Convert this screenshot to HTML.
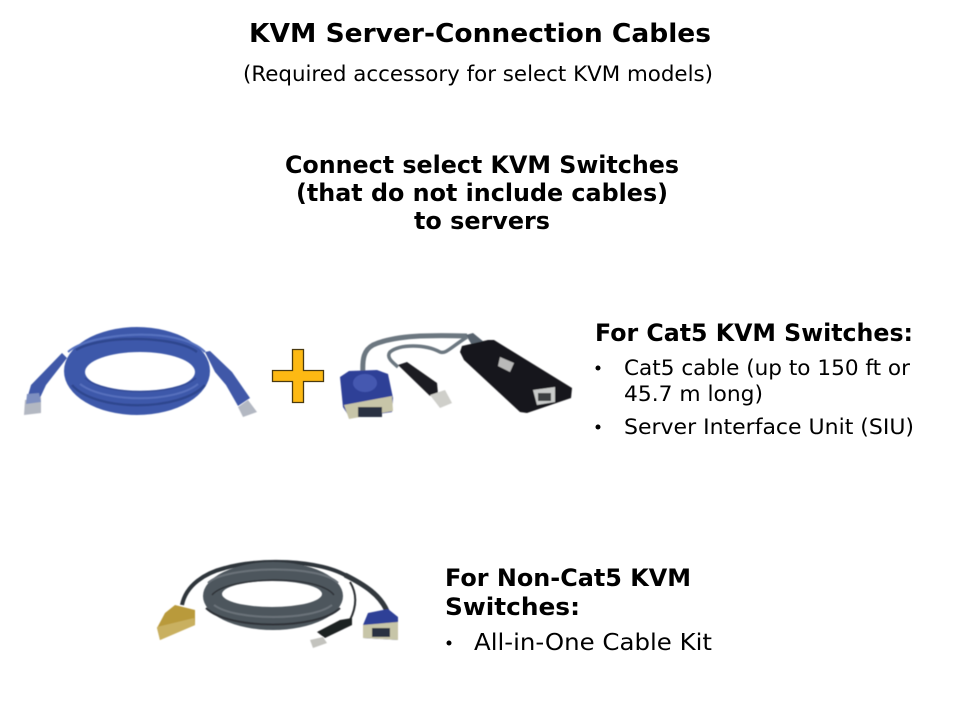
<!DOCTYPE html>
<html><head><meta charset="utf-8"><style>
html,body{margin:0;padding:0;background:#fff}
svg{display:block}
text{font-family:"DejaVu Sans","Liberation Sans",sans-serif;fill:#000}
.b{font-weight:bold}
</style></head><body>
<svg width="960" height="720" viewBox="0 0 960 720" xmlns="http://www.w3.org/2000/svg">
<defs><filter id="s" x="-5%" y="-5%" width="110%" height="110%"><feGaussianBlur stdDeviation="0.6"/></filter></defs>
<rect width="960" height="720" fill="#fff"/>

<text class="b" x="249" y="42" font-size="26" textLength="462" lengthAdjust="spacingAndGlyphs">KVM Server-Connection Cables</text>
<text x="243" y="81" font-size="21" textLength="470" lengthAdjust="spacingAndGlyphs">(Required accessory for select KVM models)</text>
<text class="b" x="285" y="173" font-size="24" textLength="394" lengthAdjust="spacingAndGlyphs">Connect select KVM Switches</text>
<text class="b" x="296" y="201" font-size="24" textLength="372" lengthAdjust="spacingAndGlyphs">(that do not include cables)</text>
<text class="b" x="414" y="229" font-size="24" textLength="136" lengthAdjust="spacingAndGlyphs">to servers</text>

<text class="b" x="595" y="341" font-size="24" textLength="318" lengthAdjust="spacingAndGlyphs">For Cat5 KVM Switches:</text>
<circle cx="598" cy="368" r="2.500" fill="#000"/>
<text x="624" y="375" font-size="21" textLength="286" lengthAdjust="spacingAndGlyphs">Cat5 cable (up to 150 ft or</text>
<text x="624" y="401" font-size="21" textLength="139" lengthAdjust="spacingAndGlyphs">45.7 m long)</text>
<circle cx="598" cy="427" r="2.500" fill="#000"/>
<text x="624" y="434" font-size="21" textLength="290" lengthAdjust="spacingAndGlyphs">Server Interface Unit (SIU)</text>

<text class="b" x="445" y="586" font-size="24" textLength="246" lengthAdjust="spacingAndGlyphs">For Non-Cat5 KVM</text>
<text class="b" x="445" y="615" font-size="24" textLength="135" lengthAdjust="spacingAndGlyphs">Switches:</text>
<circle cx="449" cy="643" r="2.500" fill="#000"/>
<text x="474" y="650" font-size="23" textLength="238" lengthAdjust="spacingAndGlyphs">All-in-One Cable Kit</text>

<!-- blue cable -->
<g filter="url(#s)">
<polygon points="62,353 67,358 46,385 39,400 27,399 31,385" fill="#3f59a8"/>
<polygon points="25,400 41,397 41,413 24,415" fill="#b3b8c2"/>
<polygon points="27,394 39,393 41,402 26,404" fill="#7e8fc0"/>
<polygon points="205,352 210,351 232,372 250,398 238,406 226,385 215,372" fill="#3f59a8"/>
<polygon points="238,407 248,400 257,412 243,417" fill="#b3b8c2"/>
<path fill-rule="evenodd" d="M64 371a73 44 0 1 0 146 0a73 44 0 1 0-146 0ZM85 372a55 20 0 1 1 110 0a55 20 0 1 1-110 0Z" fill="#3e59aa"/>
<g fill="none">
<path d="M68 352C90 332 180 326 205 352" stroke="#5772c0" stroke-width="2"/>
<path d="M76 350C100 335 175 335 197 352" stroke="#2f468f" stroke-width="2.500"/>
<path d="M72 385C95 412 180 412 205 385" stroke="#2f468f" stroke-width="2.500"/>
<path d="M80 384C105 403 175 403 198 384" stroke="#5670bd" stroke-width="2"/>
<path d="M85 378C105 396 175 396 196 378" stroke="#314a95" stroke-width="1.500"/>
</g>
</g>

<!-- plus -->
<path d="M292.500 349.500H303.500V370.500H323.500V381.500H303.500V402.500H292.500V381.500H272.500V370.500H292.500Z" fill="#fdb913" stroke="#4a3a10" stroke-width="1.300"/>

<!-- SIU -->
<g filter="url(#s)">
<path d="M467 336C430 335 395 335 373 345C364 350 362 358 363 375" fill="none" stroke="#6c7780" stroke-width="5"/>
<path d="M467 337C450 348 446 354 440 352C425 344 400 344 390 352C386 357 392 362 398 367" fill="none" stroke="#6c7780" stroke-width="3.500"/>
<polygon points="466,335 473,333 484,342 473,347" fill="#59646e"/>
<polygon points="460,352 462,346 488,340 494,340 572,388 571,398 527,413 520,412 464,360" fill="#17171a"/>
<polygon points="500,357 514,363 510,372 498,366" fill="#b9b9b9"/>
<polygon points="533,390 555,387 555,402 537,405" fill="#c9cbca"/>
<rect x="538" y="393" width="13" height="8" fill="#3c4042"/>
<polygon points="398,365 407,362 437,383 438,394 430,396" fill="#1c1d20"/>
<polygon points="430,395 445,390 452,403 440,408" fill="#cfcfca"/>
<polygon points="340,377 349,371 377,370 388,374 393,398 392,412 350,418 343,407" fill="#2f3f97"/>
<ellipse cx="365" cy="383" rx="12" ry="9" fill="#4459b0"/>
<polygon points="344,405 392,396 393,411 349,419" fill="#c7c5a8"/>
<rect x="358" y="407" width="24" height="10" fill="#2c3342"/>
</g>

<!-- grey cable -->
<g filter="url(#s)">
<g fill="none">
<path d="M182 605C186 585 205 573 225 568C255 559 320 558 350 578" stroke="#2e353a" stroke-width="4"/>
<path d="M345 575C365 585 380 595 387 611" stroke="#33393e" stroke-width="5"/>
<path d="M350 582C358 595 356 608 350 620" stroke="#2a2d30" stroke-width="2"/>
</g>
<path fill-rule="evenodd" d="M203 596a70 34 0 1 0 140 0a70 34 0 1 0-140 0ZM222 594a50 13 0 1 1 100 0a50 13 0 1 1-100 0Z" fill="#4e565d"/>
<g fill="none">
<path d="M208 583C225 566 320 564 338 583" stroke="#6a7279" stroke-width="2"/>
<path d="M212 595C228 576 318 574 334 595" stroke="#2e3338" stroke-width="1.500"/>
<path d="M206 608C228 630 318 630 340 608" stroke="#2e3338" stroke-width="2"/>
<path d="M214 605C235 621 312 621 332 605" stroke="#6a7279" stroke-width="2"/>
</g>
<polygon points="157,628 165,613 175,605 195,610 195,625 160,640" fill="#b99a3a"/>
<polygon points="157,627 194,618 195,625 160,640" fill="#c9b060"/>
<polygon points="317,632 340,620 352,618 352,625 325,638" fill="#1f2022"/>
<polygon points="310,640 323,637 327,643 313,648" fill="#c3c3be"/>
<polygon points="363,625 368,613 388,609 398,617 398,640 363,638" fill="#2f3f97"/>
<polygon points="363,625 398,622 398,640 363,638" fill="#c7c5a8"/>
<rect x="372" y="628" width="18" height="9" fill="#2c3342"/>
</g>
</svg>
</body></html>
